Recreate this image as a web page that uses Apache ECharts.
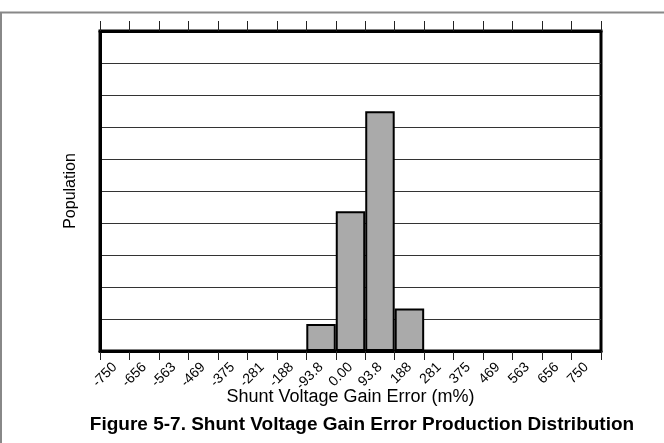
<!DOCTYPE html>
<html>
<head>
<meta charset="utf-8">
<script src="https://cdn.jsdelivr.net/npm/echarts@6/dist/echarts.min.js"></script>
<style>html,body{margin:0;padding:0;background:#fff;}#c{width:664px;height:443px;}</style>
</head>
<body>
<div id="c"></div>
<script>
const categories = ['-750','-656','-563','-469','-375','-281','-188','-93.8','0.00','93.8','188','281','375','469','563','656','750'];
const population = [0,0,0,0,0,0,0,0.84,4.37,7.49,1.33,0,0,0,0,0,0];
const xName = 'Shunt Voltage Gain Error (m%)';
const yName = 'Population';
const titleText = 'Figure 5-7. Shunt Voltage Gain Error Production Distribution';

const chart = echarts.init(document.getElementById('c'), null, {renderer: 'canvas'});
const font = 'Liberation Sans';
chart.setOption({
  animation: false,
  backgroundColor: '#fff',
  textStyle: {fontFamily: font},
  graphic: [
    {type: 'line', shape: {x1: 0, y1: 12.5, x2: 664, y2: 12.5}, style: {stroke: '#888', lineWidth: 2}},
    {type: 'line', shape: {x1: 1, y1: 12, x2: 1, y2: 443}, style: {stroke: '#888', lineWidth: 2}},
    {type: 'text', x: 362, y: 425, style: {
      text: titleText, textAlign: 'center', textVerticalAlign: 'middle',
      font: 'bold 19px "Liberation Sans"', fill: '#000'}}
  ],
  grid: {left: 100, right: 63, top: 31, bottom: 92, show: true, borderColor: '#000', borderWidth: 3, backgroundColor: 'transparent'},
  xAxis: [
    {
      type: 'category', data: categories, position: 'bottom', boundaryGap: true,
      name: xName, nameLocation: 'middle', nameGap: 37, nameMoveOverlap: false,
      nameTextStyle: {fontFamily: font, fontSize: 18, color: '#000'},
      axisLine: {show: true, lineStyle: {color: '#000', width: 3}},
      axisTick: {show: true, interval: 0, length: 9, lineStyle: {color: '#222', width: 1}},
      axisLabel: {interval: 0, rotate: 45, margin: 14, fontSize: 14, fontFamily: font, color: '#000'}
    },
    {
      type: 'category', data: categories, position: 'top', boundaryGap: true,
      axisLine: {show: true, lineStyle: {color: '#000', width: 3}},
      axisTick: {show: true, interval: 0, length: 10, lineStyle: {color: '#222', width: 1}},
      axisLabel: {show: false}
    }
  ],
  yAxis: {
    type: 'value', min: 0, max: 10, interval: 1,
    name: yName, nameLocation: 'middle', nameGap: 21,
    nameTextStyle: {fontFamily: font, fontSize: 16, color: '#000'},
    axisLine: {show: true, lineStyle: {color: '#000', width: 3}},
    axisTick: {show: false},
    axisLabel: {show: false},
    splitLine: {show: true, lineStyle: {color: '#333', width: 1}}
  },
  series: [{
    type: 'bar', data: population, xAxisIndex: 0,
    barCategoryGap: '0%',
    itemStyle: {color: '#aaaaaa', borderColor: '#000', borderWidth: 2}
  }]
});
</script>
</body>
</html>
